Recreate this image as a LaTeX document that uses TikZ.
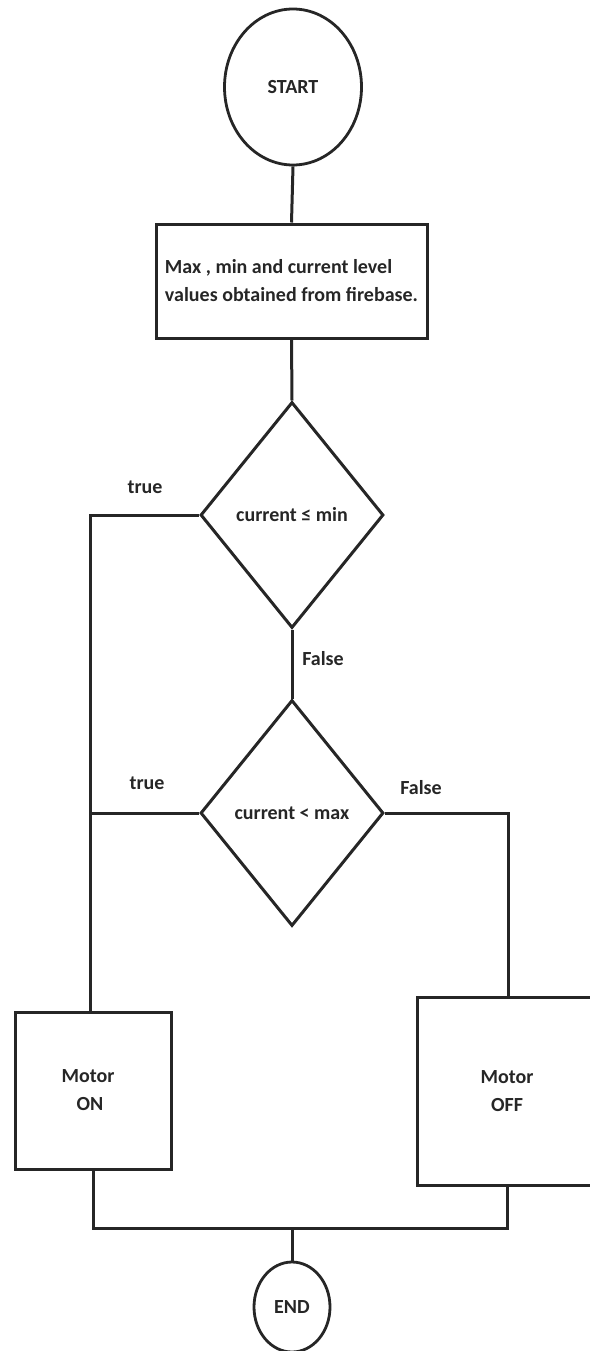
\documentclass[tikz,border=0pt]{standalone}
\usepackage{fontspec}
\setmainfont{Carlito}
\usetikzlibrary{shapes.geometric}
\begin{document}
\begin{tikzpicture}[x=1pt,y=-1pt,
  every node/.style={font=\fontsize{20}{28}\selectfont\bfseries, text=black!85},
  line/.style={draw=black!85, line width=3pt},
  oval/.style={ellipse, draw=black!85, line width=2.8pt, inner sep=0pt},
  procbox/.style={rectangle, draw=black!85, line width=3pt, inner sep=0pt},
  decision/.style={diamond, draw=black!85, line width=3pt, inner sep=0pt, minimum width=183pt, minimum height=226pt},
  lbl/.style={inner sep=0pt}
]
\useasboundingbox (0,0) rectangle (589,1351);

\node[oval, minimum width=137pt, minimum height=156pt] (start) at (293,87) {START};
\node[procbox, minimum width=271pt, minimum height=114pt, align=left] (box) at (291.5,281)
  {Max , min and current level\\values obtained from firebase.};
\node[decision] (d1) at (292,515) {current ≤ min};
\node[decision] (d2) at (292,813) {current < max};
\node[procbox, minimum width=156pt, minimum height=157pt, align=center] (on) at (93,1090.5) {\hspace*{-10pt}Motor\\ON\hspace*{6pt}};
\node[procbox, minimum width=180pt, minimum height=188pt, align=center] (off) at (507,1091) {Motor\\OFF};
\node[oval, minimum width=76pt, minimum height=90pt] (end) at (292,1307) {END};

\node[lbl] (t1) at (145,487) {true};
\node[lbl] (f1) at (323,659) {False};
\node[lbl] (t2) at (147,783) {true};
\node[lbl] (f2) at (421,788) {False};

\coordinate (jl) at (90,515);
\coordinate (jr) at (508,813);
\coordinate (jb) at (292,1228);

\draw[line] (start.south) -- (box.north);
\draw[line] (box.south) -- (d1.north);
\draw[line] (d1.west) -- (jl) -- (jl |- on.north);
\draw[line] (d1.south) -- (d2.north);
\draw[line] (d2.west) -- (jl |- d2.west);
\draw[line] (d2.east) -- (jr) -- (jr |- off.north);
\draw[line] (on.south) -- (on.south |- jb) -- (off.south |- jb) -- (off.south);
\draw[line] (jb) -- (end.north);
\end{tikzpicture}
\end{document}
